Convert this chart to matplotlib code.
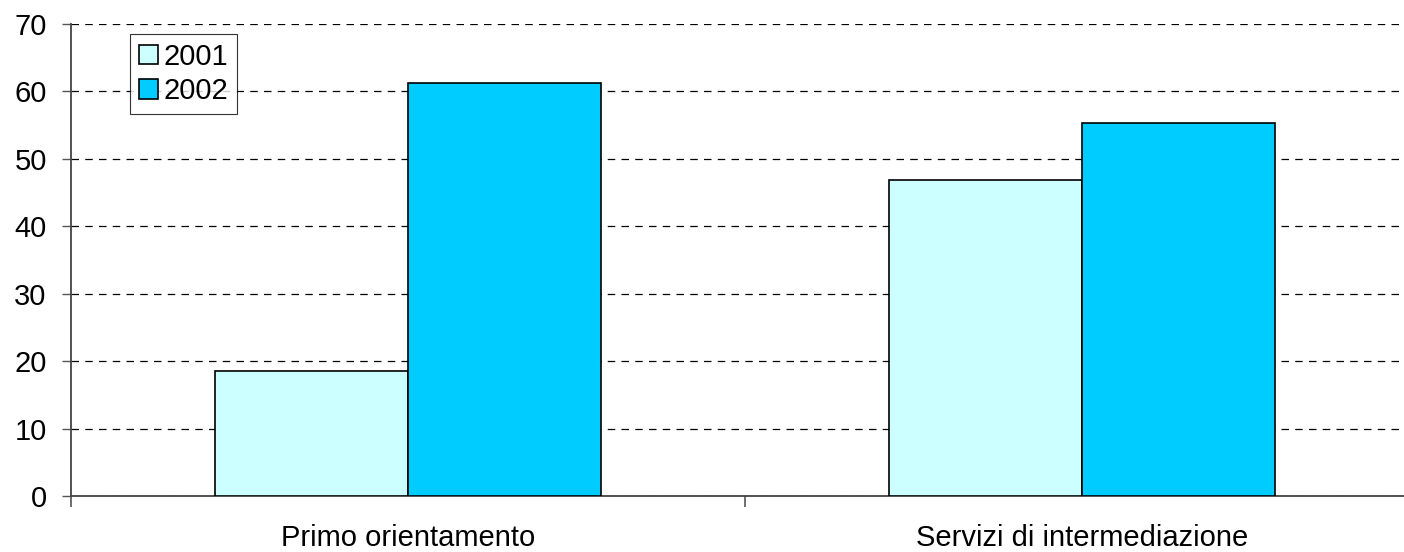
import matplotlib.pyplot as plt
import numpy as np

plt.rcParams['font.family'] = ['Liberation Sans', 'DejaVu Sans']

categorie = ['Primo orientamento', 'Servizi di intermediazione']
anni = ['2001', '2002']
valori_2001 = [18.6, 46.9]
valori_2002 = [61.2, 55.3]
colori = ['#CCFFFF', '#00CCFF']

fig = plt.figure(figsize=(14.04, 5.52), dpi=100)
ax = fig.add_axes([71 / 1404, 56 / 552, 1348 / 1404, 472 / 552])

x = np.arange(len(categorie)) + 0.5
w = 1 / 3.5
ax.bar(x - w / 2, valori_2001, w, color=colori[0], edgecolor='black', linewidth=1.2, label=anni[0], zorder=3)
ax.bar(x + w / 2, valori_2002, w, color=colori[1], edgecolor='black', linewidth=1.2, label=anni[1], zorder=3)

ax.set_xlim(0, len(categorie))
ax.set_ylim(0, 70)
ax.set_yticks(range(0, 71, 10))
ax.yaxis.grid(True, linestyle=(0, (6, 5)), color='black', linewidth=0.9, zorder=0)

ax.set_xticks(range(len(categorie) + 1))
ax.set_xticklabels([])
ax.set_xticks(x, minor=True)
ax.set_xticklabels(categorie, minor=True)
ax.tick_params(axis='x', which='major', length=8, width=1.2, color='#555555')
ax.tick_params(axis='x', which='minor', length=0, pad=20, labelsize=21)
ax.tick_params(axis='y', length=6.5, width=1.0, color='#555555', labelsize=21, pad=11)

for s in ['top', 'right']:
    ax.spines[s].set_visible(False)
ax.spines['left'].set_color('#444444')
ax.spines['bottom'].set_color('#444444')
ax.spines['left'].set_linewidth(1.3)
ax.spines['bottom'].set_linewidth(1.3)

leg = ax.legend(loc='upper left', bbox_to_anchor=(59 / 1348, 1 - 10 / 472), fontsize=21,
                frameon=True, fancybox=False, edgecolor='black', handlelength=0.65,
                handleheight=0.65, handletextpad=0.2, borderpad=0.3, labelspacing=0.22,
                borderaxespad=0)
leg.get_frame().set_linewidth(0.8)

fig.savefig('out.png', dpi=100)
